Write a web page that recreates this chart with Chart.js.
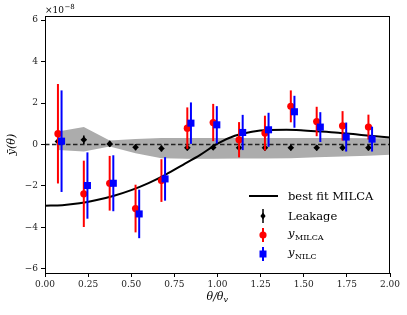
<!DOCTYPE html>
<html>
<head>
<meta charset="utf-8">
<script src="https://cdn.jsdelivr.net/npm/chart.js@4.4.1/dist/chart.umd.min.js"></script>
<style>
  html, body { margin: 0; padding: 0; background: #fff; }
</style>
</head>
<body>
<canvas id="chart" width="407" height="315"></canvas>
<script>
// values in units of 1e-8
var binX   = [0.075, 0.225, 0.375, 0.525, 0.675, 0.825, 0.975, 1.125, 1.275, 1.425, 1.575, 1.725, 1.875];
var nilcX  = [0.096, 0.246, 0.396, 0.546, 0.696, 0.846, 0.996, 1.146, 1.296, 1.446, 1.596, 1.746, 1.896];

var milcaY   = [0.52, -2.38, -1.87, -3.09, -1.74, 0.79, 1.06, 0.23, 0.55, 1.84, 1.11, 0.90, 0.84];
var milcaErr = [2.40, 1.60, 1.32, 1.15, 1.03, 1.00, 0.90, 0.85, 0.84, 0.77, 0.71, 0.71, 0.60];
var nilcY    = [0.16, -1.98, -1.87, -3.35, -1.66, 1.03, 0.95, 0.58, 0.71, 1.58, 0.84, 0.36, 0.26];
var nilcErr  = [2.45, 1.60, 1.35, 1.17, 1.05, 1.00, 0.90, 0.85, 0.82, 0.77, 0.72, 0.70, 0.60];
var leakY    = [0.15, 0.23, 0.03, -0.13, -0.19, -0.16, -0.14, -0.16, -0.16, -0.16, -0.16, -0.16, -0.16];
var leakErr  = [0.15, 0.20, 0.15, 0.15, 0.15, 0.13, 0.13, 0.13, 0.13, 0.13, 0.13, 0.13, 0.13];

// grey leakage band
var bandX     = [0.075, 0.225, 0.375, 0.525, 0.675, 0.825, 0.975, 1.125, 1.275, 1.425, 1.575, 1.725, 1.875, 2.0];
var bandUpper = [0.63, 0.84, 0.19, 0.26, 0.31, 0.31, 0.31, 0.31, 0.31, 0.31, 0.31, 0.31, 0.30, 0.30];
var bandLower = [-0.26, -0.34, -0.10, -0.42, -0.66, -0.69, -0.69, -0.68, -0.68, -0.66, -0.62, -0.58, -0.54, -0.50];

// best fit curve
var fitX = [0, 0.1, 0.2, 0.3, 0.4, 0.5, 0.6, 0.7, 0.8, 0.9, 1.0, 1.1, 1.2, 1.3, 1.4, 1.5, 1.6, 1.7, 1.8, 1.9, 2.0];
var fitY = [-2.95, -2.93, -2.84, -2.68, -2.47, -2.20, -1.86, -1.45, -0.98, -0.50, 0.04, 0.42, 0.62, 0.70, 0.71, 0.68, 0.63, 0.57, 0.49, 0.41, 0.34];

var xTicks = [0, 0.25, 0.5, 0.75, 1.0, 1.25, 1.5, 1.75, 2.0];
var yTicks = [-6, -4, -2, 0, 2, 4, 6];
var xRange = [0, 2];

var SERIF = "'DejaVu Serif', serif";

function pts(xs, ys){ return xs.map(function(x, i){ return {x: x, y: ys[i]}; }); }

var errorBars = {
  id: 'errorBars',
  beforeDatasetDraw: function(chart, args){
    var ds = chart.data.datasets[args.index];
    if(!ds.errors) return;
    var ctx = chart.ctx, xs = chart.scales.x, ys = chart.scales.y, a = chart.chartArea;
    ctx.save();
    ctx.beginPath();
    ctx.rect(a.left, a.top, a.right - a.left, a.bottom - a.top);
    ctx.clip();
    ctx.strokeStyle = ds.borderColor;
    ctx.lineWidth = ds.errWidth || 2;
    ds.data.forEach(function(p, i){
      var px = xs.getPixelForValue(p.x);
      ctx.beginPath();
      ctx.moveTo(px, ys.getPixelForValue(p.y - ds.errors[i]));
      ctx.lineTo(px, ys.getPixelForValue(p.y + ds.errors[i]));
      ctx.stroke();
    });
    ctx.restore();
  }
};

function marker(ctx, style, x, y, color){
  ctx.fillStyle = color;
  ctx.beginPath();
  if(style === 'circle'){ ctx.arc(x, y, 3.6, 0, Math.PI * 2); }
  else if(style === 'rect'){ ctx.rect(x - 3.5, y - 3.5, 7, 7); }
  else { ctx.moveTo(x, y - 3.5); ctx.lineTo(x + 2.6, y); ctx.lineTo(x, y + 3.5); ctx.lineTo(x - 2.6, y); ctx.closePath(); }
  ctx.fill();
}

var decor = {
  id: 'decor',
  afterDraw: function(chart){
    var ctx = chart.ctx, a = chart.chartArea;
    ctx.save();
    // frame
    ctx.strokeStyle = '#000';
    ctx.lineWidth = 1;
    ctx.strokeRect(a.left + 0.5, a.top + 0.5, a.right - a.left - 1, a.bottom - a.top);

    ctx.fillStyle = '#000';
    ctx.textBaseline = 'alphabetic';
    // offset text
    ctx.font = '9px ' + SERIF;
    ctx.textAlign = 'left';
    ctx.fillText('×10', a.left, a.top - 3);
    var w = ctx.measureText('×10').width;
    ctx.font = '7px ' + SERIF;
    ctx.fillText('−8', a.left + w + 0.5, a.top - 7);

    // x title
    ctx.font = 'italic 11px ' + SERIF;
    var t1 = 'θ/θ';
    var w1 = ctx.measureText(t1).width;
    var cx = (a.left + a.right) / 2;
    ctx.fillText(t1, cx - (w1 + 5) / 2, 300);
    ctx.font = 'italic 8px ' + SERIF;
    ctx.fillText('v', cx - (w1 + 5) / 2 + w1, 302);

    // y title
    ctx.save();
    ctx.translate(15, (a.top + a.bottom) / 2);
    ctx.rotate(-Math.PI / 2);
    ctx.textAlign = 'center';
    ctx.font = 'italic 11px ' + SERIF;
    ctx.fillText('ȳ(θ)', 0, 0);
    ctx.restore();

    // legend
    var lx = 263, tx = 288;
    var rows = [196, 216, 235, 254];
    ctx.strokeStyle = '#000';
    ctx.lineWidth = 2;
    ctx.beginPath(); ctx.moveTo(249, rows[0]); ctx.lineTo(278, rows[0]); ctx.stroke();
    var items = [['#000', 'diamond', 1.5], ['#ff0000', 'circle', 2], ['#0000ff', 'rect', 2]];
    items.forEach(function(it, k){
      var y = rows[k + 1];
      ctx.strokeStyle = it[0];
      ctx.lineWidth = it[2];
      ctx.beginPath(); ctx.moveTo(lx, y - 7); ctx.lineTo(lx, y + 7); ctx.stroke();
      marker(ctx, it[1], lx, y, it[0]);
    });
    ctx.fillStyle = '#000';
    ctx.textAlign = 'left';
    ctx.font = '11.5px ' + SERIF;
    ctx.fillText(chart.data.datasets[0].label, tx, rows[0] + 4);
    ctx.fillText(chart.data.datasets[1].label, tx, rows[1] + 4);
    [['MILCA', rows[2]], ['NILC', rows[3]]].forEach(function(s){
      ctx.font = 'italic 11.5px ' + SERIF;
      ctx.fillText('y', tx, s[1] + 2);
      var wy = ctx.measureText('y').width;
      ctx.font = '8px ' + SERIF;
      ctx.fillText(s[0], tx + wy + 0.5, s[1] + 5);
    });
    ctx.restore();
  }
};

var ctx = document.getElementById('chart');
new Chart(ctx, {
  type: 'line',
  data: {
    datasets: [
      { label: 'best fit MILCA', data: pts(fitX, fitY), borderColor: '#000', borderWidth: 2,
        pointRadius: 0, cubicInterpolationMode: 'monotone', fill: false, order: 3 },
      { label: 'Leakage', data: pts(binX, leakY), errors: leakErr, errWidth: 1.6,
        showLine: false, borderColor: '#000', backgroundColor: '#000',
        pointStyle: 'rectRot', pointRadius: 3.3, pointBorderWidth: 0, order: 2 },
      { label: 'y_MILCA', data: pts(binX, milcaY), errors: milcaErr, errWidth: 2,
        showLine: false, borderColor: '#ff0000', backgroundColor: '#ff0000',
        pointStyle: 'circle', pointRadius: 3.6, pointBorderWidth: 0, order: 1 },
      { label: 'y_NILC', data: pts(nilcX, nilcY), errors: nilcErr, errWidth: 2,
        showLine: false, borderColor: '#0000ff', backgroundColor: '#0000ff',
        pointStyle: 'rect', pointRadius: 5, pointBorderWidth: 0, order: 0 },
      { label: 'zero', data: pts(xRange, [0, 0]), borderColor: '#222', borderWidth: 1.3,
        borderDash: [4.5, 2.5], pointRadius: 0, fill: false, order: 4 },
      { label: 'band upper', data: pts(bandX, bandUpper), borderWidth: 0, borderColor: 'rgba(0,0,0,0)',
        pointRadius: 0, fill: false, tension: 0, order: 6 },
      { label: 'band lower', data: pts(bandX, bandLower), borderWidth: 0, borderColor: 'rgba(0,0,0,0)',
        backgroundColor: '#acacac', pointRadius: 0, fill: '-1', tension: 0, order: 5 }
    ]
  },
  options: {
    responsive: false,
    animation: false,
    devicePixelRatio: 1,
    layout: { padding: { top: 16, right: 17, left: 0, bottom: 0 } },
    plugins: { legend: { display: false }, tooltip: { enabled: false } },
    scales: {
      x: {
        type: 'linear', min: 0, max: 2,
        afterFit: function(s){ s.height = 42; },
        afterBuildTicks: function(s){ s.ticks = xTicks.map(function(v){ return {value: v}; }); },
        border: { display: false },
        grid: { drawOnChartArea: false, drawTicks: true, tickLength: 4, color: '#000' },
        ticks: { color: '#222', font: { family: SERIF, size: 9 }, padding: 2,
                 maxRotation: 0, callback: function(v){ return v.toFixed(2); } }
      },
      y: {
        type: 'linear', min: -6.2, max: 6.2,
        afterFit: function(s){ s.width = 45; },
        afterBuildTicks: function(s){ s.ticks = yTicks.map(function(v){ return {value: v}; }); },
        border: { display: false },
        grid: { drawOnChartArea: false, drawTicks: true, tickLength: 4, color: '#000' },
        ticks: { color: '#222', font: { family: SERIF, size: 9 }, padding: 3,
                 callback: function(v){ return v < 0 ? '−' + Math.abs(v) : String(v); } }
      }
    }
  },
  plugins: [errorBars, decor]
});
</script>
</body>
</html>
